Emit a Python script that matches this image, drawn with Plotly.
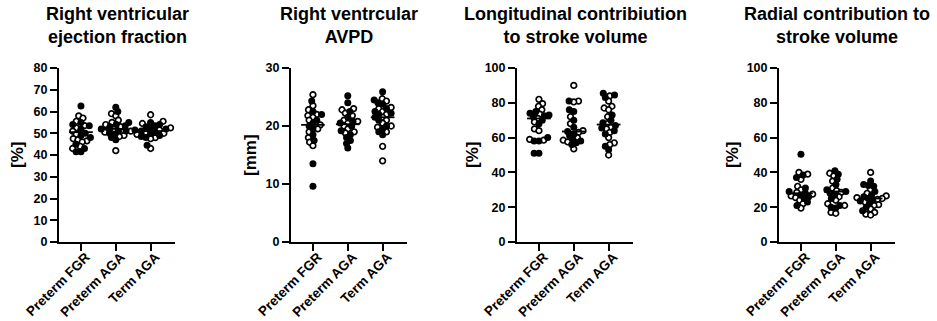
import numpy as np
import plotly.graph_objects as go

groups = ["Preterm FGR", "Preterm AGA", "Term AGA"]

panel_titles = [
    "Right ventricular<br>ejection fraction",
    "Right ventrcular<br>AVPD",
    "Longitudinal contribiution<br>to stroke volume",
    "Radial contribution to<br>stroke volume",
]
unit_labels = ["[%]", "[mm]", "[%]", "[%]"]

# Right ventricular ejection fraction [%]
rvef_filled = [
    [62.5, 55, 54, 53.5, 52, 50, 49, 48, 45, 43, 41.5, 41.5],
    [62, 60, 55, 54, 53.5, 53, 52, 51, 51, 50, 49.5, 48, 47],
    [55, 54, 53.5, 53, 52.5, 52, 51.5, 51, 50.5, 50, 49, 48.5, 48, 44.5],
]
rvef_open = [
    [58, 57, 55.5, 53.5, 52.5, 51, 49.5, 47.5, 47, 46.5, 46, 44, 43],
    [59, 58, 56, 55, 54, 53, 52, 51, 50.5, 49, 48.5, 42],
    [58.5, 55.5, 54.5, 52.5, 51.5, 50.5, 50, 49.5, 48, 47.5, 43],
]
rvef_median = [50.5, 52.0, 51.0]

# Right ventricular AVPD [mm]
avpd_filled = [
    [24.3, 22.5, 22.0, 21.0, 20.5, 20.0, 19.5, 18.5, 17.5, 13.5, 9.6],
    [25.2, 24.0, 22.5, 21.5, 20.8, 20.5, 20.0, 19.2, 18.5, 18.0, 17.5, 17.0, 16.2],
    [25.9, 24.5, 24.0, 23.8, 23.0, 22.5, 22.2, 22.0, 21.5, 21.0, 20.0, 19.5, 19.0, 18.5],
]
avpd_open = [
    [25.4, 23.5, 22.8, 22.0, 21.8, 21.5, 21.0, 20.2, 19.5, 19.0, 18.0, 17.2, 16.6],
    [23.0, 22.8, 22.2, 21.8, 21.0, 20.8, 20.5, 20.0, 19.5, 19.0, 18.8],
    [24.7, 24.3, 23.2, 23.0, 22.5, 22.0, 21.5, 21.0, 20.5, 20.0, 19.8, 19.0, 16.5, 14.0],
]
avpd_median = [20.2, 20.3, 21.5]

# Longitudinal contribution to stroke volume [%]
long_filled = [
    [75, 74, 73, 72.5, 72, 70, 68, 60, 58, 58, 51, 51],
    [81, 76, 75, 70, 66, 63.5, 62, 61, 59, 58, 57, 56],
    [85.5, 84.5, 83, 73, 70, 68.5, 67, 65.5, 64, 62, 55, 53],
]
long_open = [
    [82, 79.5, 78, 76, 73.5, 71, 69, 65, 64, 59, 58.5],
    [90, 81, 80.5, 72, 68, 64, 63, 60, 58.5, 57.5, 53.5],
    [84, 81, 78, 77, 76, 72, 68, 66, 65, 63, 60, 57, 56, 50],
]
long_median = [71.0, 63.5, 67.5]

# Radial contribution to stroke volume [%]
rad_filled = [
    [50.5, 38.5, 37, 31, 29, 28, 27, 26, 25, 23, 21],
    [41, 39, 36, 33, 30, 29, 28, 27, 25, 21, 20, 19.5],
    [35, 33, 32.5, 32, 29, 27, 26, 25, 24, 23.5, 22, 20, 18],
]
rad_open = [
    [40, 39, 36, 32, 30, 28.5, 27.5, 26.5, 25.5, 24, 22, 19.5],
    [39.5, 38, 35, 31, 29.5, 28.5, 26, 24, 22, 21, 17, 16.5],
    [40, 30, 28, 26.5, 25.5, 25, 24.5, 23, 21.5, 21, 19, 17, 16, 15.5],
]
rad_median = [28.0, 29.0, 25.0]

panels = [
    (rvef_filled, rvef_open, rvef_median, 80, 10),
    (avpd_filled, avpd_open, avpd_median, 30, 10),
    (long_filled, long_open, long_median, 100, 20),
    (rad_filled, rad_open, rad_median, 100, 20),
]

W, H = 937, 321
x_px = [(59, 175), (291, 407), (517, 633), (779, 895)]
y_top, y_bot = 68, 242
label_x = [18, 251, 473, 733]
x_range = [-0.63, 2.7]
FONT = "Liberation Sans, Arial, sans-serif"
MARK = 7.0      # marker diameter in px
GAP = 4.8       # min centre distance used by the swarm layout


def swarm(values, px_per_unit):
    """Beeswarm offsets (px) so that markers sit side by side."""
    order = np.argsort(values)
    placed = []
    offs = np.zeros(len(values))
    for i in order:
        y = values[i] * px_per_unit
        blocked = []
        for (xj, yj) in placed:
            dy = abs(y - yj)
            if dy < GAP:
                w = np.sqrt(GAP ** 2 - dy ** 2)
                blocked.append((xj - w, xj + w))
        cands = [0.0] + [b for iv in blocked for b in iv]
        cands.sort(key=lambda c: (abs(c), c))
        best = 0.0
        for c in cands:
            if all(not (lo + 1e-9 < c < hi - 1e-9) for lo, hi in blocked):
                best = c
                break
        offs[i] = best
        placed.append((best, y))
    return offs


fig = go.Figure()
annotations = []

for k, (filled, opened, med, ymax, dtick) in enumerate(panels):
    xa = "x" if k == 0 else f"x{k + 1}"
    ya = "y" if k == 0 else f"y{k + 1}"
    x0, x1 = x_px[k]
    cat_px = (x1 - x0) / (x_range[1] - x_range[0])
    px_per_unit = (y_bot - y_top) / ymax

    for g in range(3):
        vals = np.array(filled[g] + opened[g], dtype=float)
        kind = np.array([1] * len(filled[g]) + [0] * len(opened[g]))
        offs = swarm(vals, px_per_unit) / cat_px + g
        for is_filled in (0, 1):
            sel = kind == is_filled
            fig.add_trace(go.Scatter(
                x=offs[sel], y=vals[sel], mode="markers",
                xaxis=xa, yaxis=ya, showlegend=False, hoverinfo="y",
                marker=dict(
                    size=MARK if is_filled else MARK - 1.4,
                    color="black" if is_filled else "white",
                    line=dict(color="black", width=0 if is_filled else 1.7),
                ),
            ))
        fig.add_trace(go.Scatter(
            x=[g - 0.34, g + 0.34], y=[med[g], med[g]], mode="lines",
            xaxis=xa, yaxis=ya, showlegend=False, hoverinfo="skip",
            line=dict(color="black", width=1.8),
        ))

    dom_x = [x0 / W, x1 / W]
    dom_y = [1 - y_bot / H, 1 - y_top / H]
    fig.update_layout({
        f"xaxis{'' if k == 0 else k + 1}": dict(
            domain=dom_x, anchor=ya, range=x_range,
            tickmode="array", tickvals=[0, 1, 2], ticktext=groups,
            tickangle=-45, ticks="outside", ticklen=7, tickwidth=1.8,
            tickcolor="black", showline=True, linecolor="black", linewidth=2,
            showgrid=False, zeroline=False, automargin=False,
            ticklabelstandoff=-7, ticklabelshift=5,
            tickfont=dict(family=FONT, size=13.5, color="black", weight="bold"),
        ),
        f"yaxis{'' if k == 0 else k + 1}": dict(
            domain=dom_y, anchor=xa, range=[0, ymax], dtick=dtick, tick0=0,
            ticks="outside", ticklen=7, tickwidth=1.8, tickcolor="black",
            showline=True, linecolor="black", linewidth=2,
            showgrid=False, zeroline=False, automargin=False,
            tickfont=dict(family=FONT, size=12.5, color="black", weight="bold"),
        ),
    })

    annotations.append(dict(
        text=panel_titles[k], xref="paper", yref="paper",
        x=(x0 + x1) / 2 / W, y=1 - 2 / H, xanchor="center", yanchor="top",
        showarrow=False, align="center",
        font=dict(family=FONT, size=18, color="black", weight="bold"),
    ))
    annotations.append(dict(
        text=unit_labels[k], xref="paper", yref="paper",
        x=label_x[k] / W, y=1 - (y_top + y_bot) / 2 / H,
        xanchor="center", yanchor="middle", textangle=-90, showarrow=False,
        font=dict(family=FONT, size=17, color="black", weight="bold"),
    ))

fig.update_layout(
    width=W, height=H,
    margin=dict(l=0, r=0, t=0, b=0, autoexpand=False),
    paper_bgcolor="white", plot_bgcolor="white",
    annotations=annotations,
)

fig.write_html("out.html")
